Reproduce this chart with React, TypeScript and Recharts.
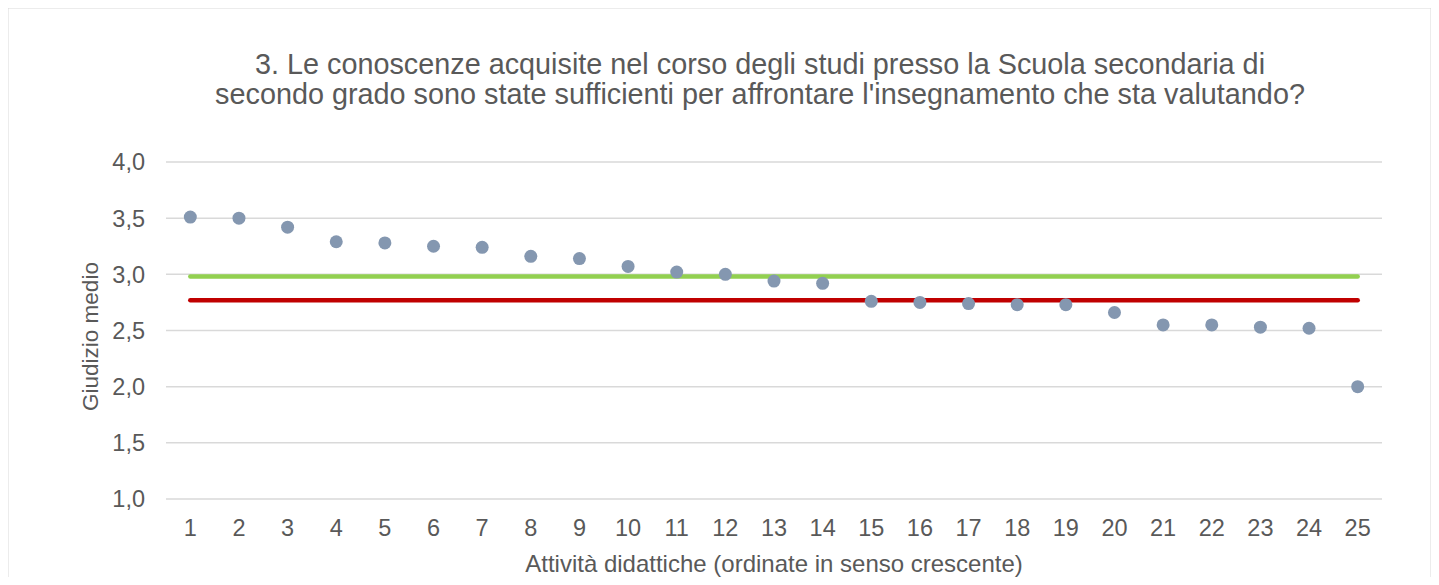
import { LineChart, Line, XAxis, YAxis, CartesianGrid, Label } from 'recharts';

const activities = [1, 2, 3, 4, 5, 6, 7, 8, 9, 10, 11, 12, 13, 14, 15, 16, 17, 18, 19, 20, 21, 22, 23, 24, 25];
const scores = [3.51, 3.5, 3.42, 3.29, 3.28, 3.25, 3.24, 3.16, 3.14, 3.07, 3.02, 3.0, 2.94, 2.92, 2.76, 2.75, 2.74, 2.73, 2.73, 2.66, 2.55, 2.55, 2.53, 2.52, 2.0];
const greenRef = 2.98;
const redRef = 2.77;
const yTicks = [1, 1.5, 2, 2.5, 3, 3.5, 4];

const titleLines = [
  '3. Le conoscenze acquisite nel corso degli studi presso la Scuola secondaria di',
  "secondo grado sono state sufficienti per affrontare l'insegnamento che sta valutando?",
];

const data = activities.map((a, i) => ({
  x: a,
  score: scores[i],
  green: greenRef,
  red: redRef,
}));

const font = '"Liberation Sans", Arial, sans-serif';
const textColor = '#595959';

const YTitle = (props: any) => {
  const vb = props.viewBox;
  const cx = 90;
  const cy = vb.y + vb.height / 2 + 6;
  return (
    <text
      x={cx}
      y={cy}
      transform={`rotate(-90, ${cx}, ${cy})`}
      textAnchor="middle"
      dominantBaseline="central"
      fill={textColor}
      fontSize={22.5}
      fontFamily={font}
    >
      Giudizio medio
    </text>
  );
};

export default function App() {
  return (
    <div style={{ position: 'relative', width: 1439, height: 585, margin: -8, background: '#fff' }}>
      <svg
        width={1439}
        height={585}
        style={{ position: 'absolute', left: 0, top: 0 }}
      >
        <rect x={7.5} y={7.5} width={1424} height={640} fill="#fff" stroke="#D9D9D9" strokeWidth={2} />
      </svg>
      <div
        style={{
          position: 'absolute',
          left: 0,
          top: 49,
          width: 1520,
          textAlign: 'center',
          fontFamily: font,
          fontSize: 28.8,
          lineHeight: '30px',
          color: textColor,
        }}
      >
        {titleLines.map((t) => (
          <div key={t}>{t}</div>
        ))}
      </div>
      <div style={{ position: 'absolute', left: 0, top: 0 }}>
        <LineChart width={1439} height={585} data={data} margin={{ top: 162, right: 57, bottom: 56, left: 90 }}>
          <CartesianGrid vertical={false} stroke="#D9D9D9" strokeWidth={1.5} />
          <XAxis
            dataKey="x"
            type="number"
            domain={[0.5, 25.5]}
            ticks={activities}
            interval={0}
            axisLine={false}
            tickLine={false}
            tickSize={0}
            tickMargin={20}
            tick={{ fill: textColor, fontSize: 23.5, fontFamily: font }}
          >
            <Label
              value="Attività didattiche (ordinate in senso crescente)"
              position="bottom"
              offset={26}
              fill={textColor}
              fontSize={24}
              fontFamily={font}
            />
          </XAxis>
          <YAxis
            type="number"
            domain={[1, 4]}
            ticks={yTicks}
            width={76}
            axisLine={false}
            tickLine={false}
            tickSize={0}
            tickMargin={21}
            tickFormatter={(v: number) => v.toFixed(1).replace('.', ',')}
            tick={{ fill: textColor, fontSize: 23.5, fontFamily: font }}
          >
            <Label content={YTitle} />
          </YAxis>
          <Line
            dataKey="green"
            stroke="#92D050"
            strokeWidth={4.5}
            strokeLinecap="round"
            dot={false}
            activeDot={false}
            isAnimationActive={false}
          />
          <Line
            dataKey="red"
            stroke="#C00000"
            strokeWidth={4.5}
            strokeLinecap="round"
            dot={false}
            activeDot={false}
            isAnimationActive={false}
          />
          <Line
            dataKey="score"
            stroke="none"
            dot={{ r: 6.5, fill: '#8497B0', stroke: 'none' }}
            activeDot={false}
            isAnimationActive={false}
          />
        </LineChart>
      </div>
    </div>
  );
}
